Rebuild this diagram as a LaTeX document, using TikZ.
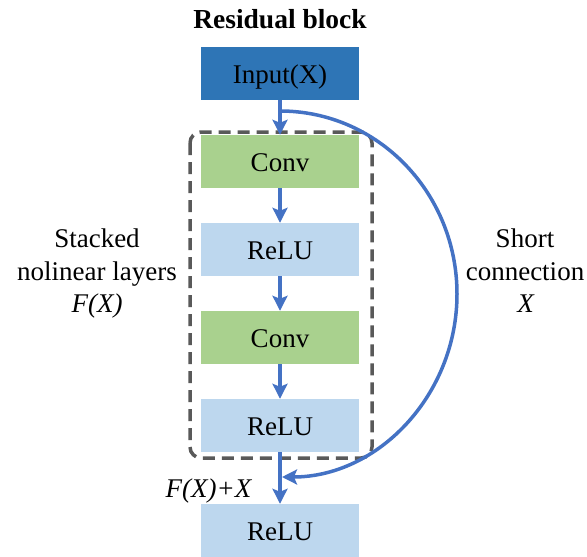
\documentclass[tikz,border=0pt]{standalone}
\usepackage{fontspec}
\setmainfont{Liberation Serif}
\usetikzlibrary{arrows.meta}
\definecolor{inblue}{HTML}{2E75B6}
\definecolor{convgreen}{HTML}{A9D18E}
\definecolor{relublue}{HTML}{BDD7EE}
\definecolor{arrowblue}{HTML}{4472C4}
\definecolor{dashgray}{HTML}{595959}
\tikzset{
  blk/.style={minimum width=158pt, minimum height=53pt, inner sep=0pt, text height=19pt, text depth=0pt, font=\fontsize{27}{33}\selectfont},
  inbox/.style={blk, fill=inblue},
  convbox/.style={blk, fill=convgreen},
  relubox/.style={blk, fill=relublue},
  flow/.style={draw=arrowblue, line width=4pt, -{Stealth[length=15pt,width=15pt,inset=3pt]}},
  skip/.style={draw=arrowblue, line width=3.5pt, -{Stealth[length=15pt,width=15pt,inset=3pt]}},
  lab/.style={font=\fontsize{27}{33}\selectfont, align=center, inner sep=0pt},
  grp/.style={draw=dashgray, line width=3.5pt, dash pattern=on 12pt off 7pt, rounded corners=11pt}
}
\begin{document}
\begin{tikzpicture}[x=1pt,y=-1pt]
\useasboundingbox (0,0) rectangle (587,557);
\node[font=\fontsize{27.5}{33}\selectfont\bfseries, anchor=base, inner sep=0pt] (title) at (280,28) {Residual block};
\draw[grp] (190,132) rectangle (372,458);
\node[inbox] (in) at (280,73.5) {Input(X)};
\node[convbox] (c1) at (280,161.5) {Conv};
\node[relubox] (r1) at (280,249.5) {ReLU};
\node[convbox] (c2) at (280,337.5) {Conv};
\node[relubox] (r2) at (280,425.5) {ReLU};
\node[relubox] (r3) at (280,530.5) {ReLU};
\coordinate (split) at (280,111);
\coordinate (merge) at (282,477);
\draw[flow] (in) -- (c1);
\draw[flow] (c1) -- (r1);
\draw[flow] (r1) -- (c2);
\draw[flow] (c2) -- (r2);
\draw[flow] (r2) -- (r3);
\draw[skip] (split) .. controls (378,111) and (457,193) .. (457,294) .. controls (457,395) and (378,477) .. (merge);
\node[lab, anchor=base] (left) at (97,247) {Stacked};
\node[lab, anchor=base] (left2) at (97,280) {nolinear layers};
\node[lab, anchor=base] (left3) at (97,312) {\textit{F(X)}};
\node[lab, anchor=base] (right) at (525,247) {Short};
\node[lab, anchor=base] (right2) at (525,280) {connection};
\node[lab, anchor=base] (right3) at (526,312) {\textit{X}};
\node[lab, anchor=base] (sum) at (209,497) {\textit{F(X)+X}};
\end{tikzpicture}
\end{document}
